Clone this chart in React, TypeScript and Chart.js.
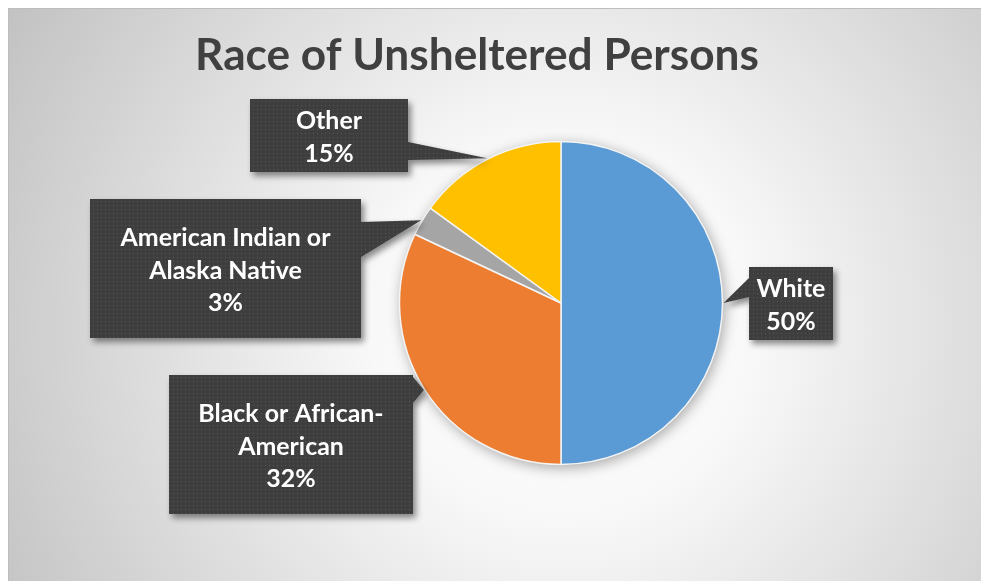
import React, { useEffect, useRef } from "react";
import { Chart, registerables } from "chart.js";

Chart.register(...registerables);

// ---------- data ----------
const titleText = "Race of Unsheltered Persons";
const categories = ["White", "Black or African-American", "American Indian or Alaska Native", "Other"];
const values = [50, 32, 3, 15];
const labelNameLines = [["White"], ["Black or African-", "American"], ["American Indian or", "Alaska Native"], ["Other"]];
const sliceColors = ["#5B9BD5", "#ED7D31", "#A5A5A5", "#FFC000"];

// ---------- layout (canvas coordinates) ----------
const CANVAS_W = 973;
const CANVAS_H = 573;
type Callout = { x: number; y: number; w: number; h: number; side: "left" | "right"; b0: number; b1: number };
const callouts: Callout[] = [
  { x: 741, y: 259, w: 84, h: 73, side: "left", b0: 270, b1: 289 },
  { x: 161, y: 367, w: 244, h: 139, side: "right", b0: 369, b1: 395 },
  { x: 82, y: 191, w: 271, h: 139, side: "right", b0: 214, b1: 249 },
  { x: 242, y: 91, w: 158, h: 73, side: "right", b0: 134, b1: 152 },
];

const FONT_FAMILY = "Lato, 'Open Sans', sans-serif";

function makePattern(ctx: CanvasRenderingContext2D) {
  const c = document.createElement("canvas");
  c.width = 4;
  c.height = 4;
  const p = c.getContext("2d")!;
  p.fillStyle = "#3e3e3e";
  p.fillRect(0, 0, 4, 4);
  p.fillStyle = "#575757";
  p.fillRect(1, 1, 1, 1);
  return ctx.createPattern(c, "repeat");
}

function fitFont(ctx: CanvasRenderingContext2D, text: string, target: number) {
  ctx.font = `bold 100px ${FONT_FAMILY}`;
  const w = ctx.measureText(text).width;
  return (100 * target) / w;
}

const decorPlugin = {
  id: "decor",
  beforeDraw(chart: any) {
    const { ctx, width, height } = chart;
    ctx.save();
    const g = ctx.createRadialGradient(555, 320, 0, 555, 320, 640);
    g.addColorStop(0, "#ffffff");
    g.addColorStop(0.3, "#f8f8f8");
    g.addColorStop(1, "#c2c2c2");
    ctx.fillStyle = g;
    ctx.fillRect(0, 0, width, height);
    ctx.strokeStyle = "#bdbdbd";
    ctx.lineWidth = 1;
    ctx.beginPath();
    ctx.moveTo(0.5, height);
    ctx.lineTo(0.5, 0.5);
    ctx.lineTo(width, 0.5);
    ctx.stroke();

    // title
    const size = fitFont(ctx, titleText, 564);
    ctx.font = `bold ${size}px ${FONT_FAMILY}`;
    ctx.fillStyle = "#404040";
    ctx.textAlign = "center";
    ctx.textBaseline = "alphabetic";
    ctx.fillText(titleText, 469, 62);
    ctx.restore();
  },
  beforeDatasetsDraw(chart: any) {
    const { ctx } = chart;
    const arc = chart.getDatasetMeta(0).data[0];
    if (!arc) return;
    const { x, y, outerRadius } = arc.getProps(["x", "y", "outerRadius"], true);
    ctx.save();
    ctx.shadowColor = "rgba(0,0,0,0.35)";
    ctx.shadowBlur = 14;
    ctx.shadowOffsetX = 2;
    ctx.shadowOffsetY = 3;
    ctx.fillStyle = "#ffffff";
    ctx.beginPath();
    ctx.arc(x, y, outerRadius, 0, Math.PI * 2);
    ctx.fill();
    ctx.restore();
  },
  afterDatasetsDraw(chart: any) {
    const { ctx } = chart;
    const meta = chart.getDatasetMeta(0);
    const pattern = makePattern(ctx);
    const labelSize = fitFont(ctx, "American Indian or", 210);
    const lineH = 32.5;
    meta.data.forEach((arc: any, i: number) => {
      const c = callouts[i];
      if (!c) return;
      const { x, y, startAngle, endAngle, outerRadius } = arc.getProps(
        ["x", "y", "startAngle", "endAngle", "outerRadius"],
        true
      );
      const mid = (startAngle + endAngle) / 2;
      const tx = x + Math.cos(mid) * (outerRadius + 1);
      const ty = y + Math.sin(mid) * (outerRadius + 1);

      ctx.save();
      ctx.beginPath();
      if (c.side === "right") {
        const r = c.x + c.w;
        ctx.moveTo(c.x, c.y);
        ctx.lineTo(r, c.y);
        ctx.lineTo(r, c.b0);
        ctx.lineTo(tx, ty);
        ctx.lineTo(r, c.b1);
        ctx.lineTo(r, c.y + c.h);
        ctx.lineTo(c.x, c.y + c.h);
      } else {
        ctx.moveTo(c.x, c.y);
        ctx.lineTo(c.x + c.w, c.y);
        ctx.lineTo(c.x + c.w, c.y + c.h);
        ctx.lineTo(c.x, c.y + c.h);
        ctx.lineTo(c.x, c.b1);
        ctx.lineTo(tx, ty);
        ctx.lineTo(c.x, c.b0);
      }
      ctx.closePath();
      ctx.shadowColor = "rgba(0,0,0,0.45)";
      ctx.shadowBlur = 6;
      ctx.shadowOffsetX = 3;
      ctx.shadowOffsetY = 4;
      ctx.fillStyle = pattern || "#3e3e3e";
      ctx.fill();
      ctx.restore();

      const lines = [...labelNameLines[i], `${values[i]}%`];
      ctx.save();
      ctx.font = `bold ${labelSize}px ${FONT_FAMILY}`;
      ctx.fillStyle = "#ffffff";
      ctx.textAlign = "center";
      ctx.textBaseline = "middle";
      const cx = c.x + c.w / 2;
      const cy = c.y + c.h / 2;
      const top = cy - ((lines.length - 1) * lineH) / 2;
      lines.forEach((ln, k) => ctx.fillText(ln, cx, top + k * lineH + 2));
      ctx.restore();
    });
  },
};

export default function App() {
  const canvasRef = useRef<HTMLCanvasElement | null>(null);

  useEffect(() => {
    document.body.style.margin = "0";
    document.body.style.overflow = "hidden";
    const canvas = canvasRef.current;
    if (!canvas) return;
    const chart = new Chart(canvas, {
      type: "pie",
      data: {
        labels: categories,
        datasets: [
          {
            data: values,
            backgroundColor: sliceColors,
            borderColor: "#f4f4f4",
            borderWidth: 1.5,
            radius: 161.5,
          } as any,
        ],
      },
      options: {
        animation: false,
        responsive: true,
        maintainAspectRatio: false,
        layout: { padding: { left: 383, right: 250, top: 125, bottom: 108 } },
        plugins: {
          legend: { display: false },
          title: { display: false },
          tooltip: { enabled: false },
        },
      },
      plugins: [decorPlugin],
    });
    return () => chart.destroy();
  }, []);

  return (
    <div style={{ paddingLeft: 8, paddingTop: 8, width: CANVAS_W, height: CANVAS_H }}>
      <div style={{ position: "relative", width: CANVAS_W, height: CANVAS_H }}>
        <canvas ref={canvasRef} />
      </div>
    </div>
  );
}
